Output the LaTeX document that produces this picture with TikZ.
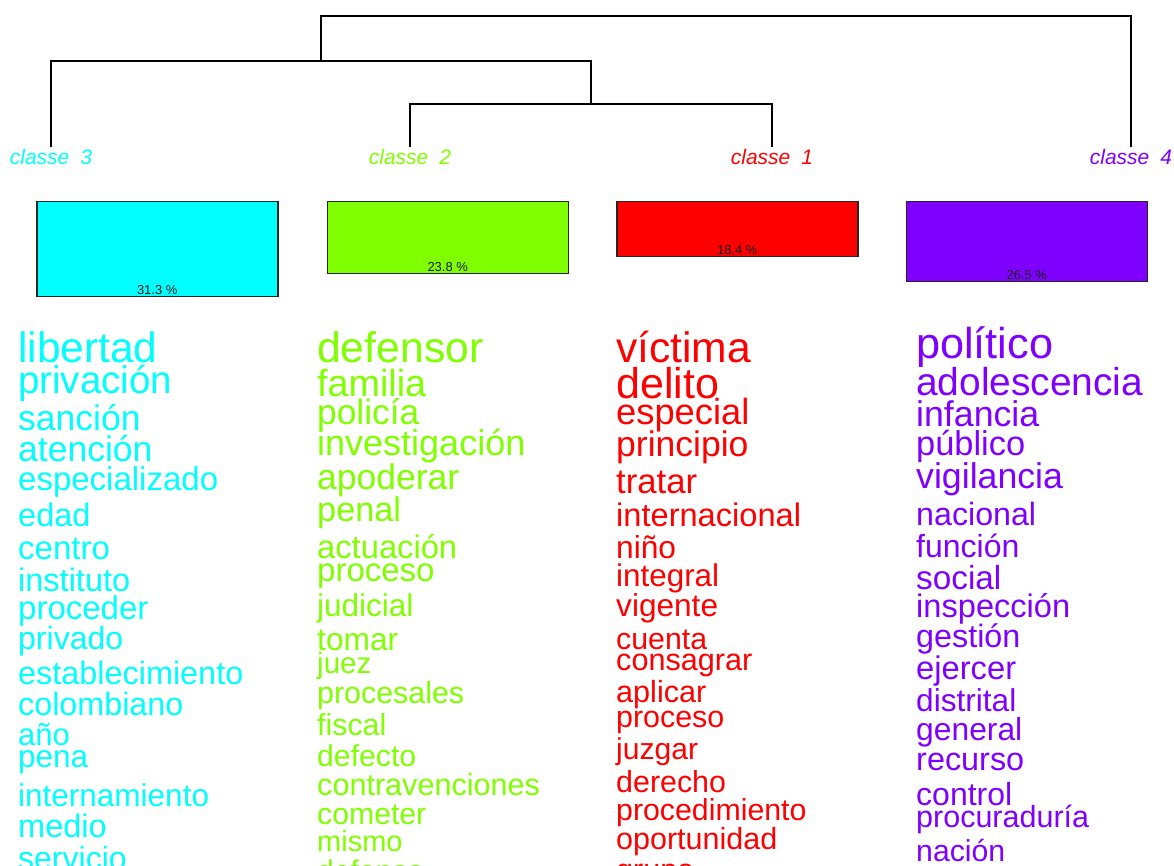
\documentclass[tikz,border=0pt]{standalone}
\usepackage{fontspec}
\setmainfont{Liberation Sans}
\usetikzlibrary{positioning, calc}
\definecolor{cls1}{RGB}{255,0,0}
\definecolor{cls2}{RGB}{128,255,0}
\definecolor{cls3}{RGB}{0,255,255}
\definecolor{cls4}{RGB}{128,0,255}
\tikzstyle{Branch} = [line width=1.5pt, black]
\tikzstyle{Leaf} = [font=\fontsize{21}{21}\selectfont\itshape, anchor=base, inner sep=0pt]
\tikzstyle{Box} = [draw=black!85, line width=1.5pt, anchor=north west,
minimum width=241pt, inner sep=0pt]
\tikzstyle{Pct} = [font=\fontsize{13}{13}\selectfont, anchor=base, inner sep=0pt, black!90]
\tikzset{Word/.style={font=\fontsize{#1}{#1}\selectfont, anchor=base west, inner sep=0pt}}

\begin{document}
\begin{tikzpicture}[x=1pt, y=-1pt]
    \useasboundingbox (0,0) rectangle (1174,866);
    \clip (0,0) rectangle (1174,866);

    % dendrogram
    \coordinate (l3) at (51,147);
    \coordinate (l2) at (410,147);
    \coordinate (l1) at (772,147);
    \coordinate (l4) at (1131,147);
    \coordinate (j21) at (591,104);
    \coordinate (j321) at (321,61);
    \coordinate (jtop) at (726,16);
    \draw[Branch] (l2) |- (j21) -| (l1);
    \draw[Branch] (l3) |- (j321) -| (j21);
    \draw[Branch] (j321) |- (jtop) -| (l4);

    \node[Leaf, cls3] (lab3) at (51,165) {classe\hspace{0.25em} 3};
    \node[Leaf, cls2] (lab2) at (410,165) {classe\hspace{0.25em} 2};
    \node[Leaf, cls1] (lab1) at (772,165) {classe\hspace{0.25em} 1};
    \node[Leaf, cls4] (lab4) at (1131,165) {classe\hspace{0.25em} 4};

    % class sizes
    \node[Box, fill=cls3, minimum height=94.7pt] (box3) at (36,201) {};
    \node[Box, fill=cls2, minimum height=71.7pt] (box2) at (326.5,201) {};
    \node[Box, fill=cls1, minimum height=54.7pt] (box1) at (616,201) {};
    \node[Box, fill=cls4, minimum height=80pt] (box4) at (905.5,201) {};
    \node[Pct] (p3) at ($(box3.south)+(0,-3)$) {31.3 \%};
    \node[Pct] (p2) at ($(box2.south)+(0,-3)$) {23.8 \%};
    \node[Pct] (p1) at ($(box1.south)+(0,-3)$) {18.4 \%};
    \node[Pct] (p4) at ($(box4.south)+(0,-3)$) {26.5 \%};

    % classe 3
    \begin{scope}[cls3]
    \node[Word=42.5] (libertad) at (18,362) {libertad};
    \node[Word=38.5] (privacion) at (18,393) {privación};
    \node[Word=35.5] (sancion) at (18,430) {sanción};
    \node[Word=35.5] (atencion) at (18,461) {atención};
    \node[Word=33] (especializado) at (18,490) {especializado};
    \node[Word=32.5] (edad) at (18,526) {edad};
    \node[Word=33] (centro) at (18,559) {centro};
    \node[Word=32.5] (instituto) at (18,591) {instituto};
    \node[Word=33] (proceder) at (18,619) {proceder};
    \node[Word=32] (privado) at (18,649) {privado};
    \node[Word=32.4] (establecimiento) at (18,684) {establecimiento};
    \node[Word=32.3] (colombiano) at (18,715) {colombiano};
    \node[Word=31] (anio) at (18,745) {año};
    \node[Word=31.5] (pena) at (18,767) {pena};
    \node[Word=31.5] (internamiento) at (18,806) {internamiento};
    \node[Word=32.5] (medio) at (18,837) {medio};
    \node[Word=32] (servicio) at (18,869) {servicio};
    \end{scope}

    % classe 2
    \begin{scope}[cls2]
    \node[Word=42.7] (defensor) at (317,362) {defensor};
    \node[Word=37.7] (familia) at (317,396) {familia};
    \node[Word=35.3] (policia) at (317,424) {policía};
    \node[Word=36] (investigacion) at (317,455) {investigación};
    \node[Word=35.5] (apoderar) at (317,489) {apoderar};
    \node[Word=34.3] (penal) at (317,521) {penal};
    \node[Word=32.7] (actuacion) at (317,558) {actuación};
    \node[Word=33] (proceso2) at (317,581) {proceso};
    \node[Word=31.5] (judicial) at (317,616) {judicial};
    \node[Word=31.7] (tomar) at (317,650) {tomar};
    \node[Word=29.5] (juez) at (317,673) {juez};
    \node[Word=30.4] (procesales) at (317,703) {procesales};
    \node[Word=30.3] (fiscal) at (317,735) {fiscal};
    \node[Word=30.2] (defecto) at (317,766) {defecto};
    \node[Word=30.6] (contravenciones) at (317,795) {contravenciones};
    \node[Word=30.2] (cometer) at (317,824) {cometer};
    \node[Word=29] (mismo) at (317,851) {mismo};
    \node[Word=30] (defensa) at (317,881) {defensa};
    \end{scope}

    % classe 1
    \begin{scope}[cls1]
    \node[Word=42.6] (victima) at (616,362) {víctima};
    \node[Word=43] (delito) at (616,398) {delito};
    \node[Word=36.3] (especial) at (616,424) {especial};
    \node[Word=35.5] (principio) at (616,456) {principio};
    \node[Word=34.7] (tratar) at (616,493) {tratar};
    \node[Word=32.6] (internacional) at (616,526) {internacional};
    \node[Word=31.7] (nino) at (616,558) {niño};
    \node[Word=31.4] (integral) at (616,586) {integral};
    \node[Word=31.6] (vigente) at (616,616) {vigente};
    \node[Word=30.3] (cuenta) at (616,649) {cuenta};
    \node[Word=30.6] (consagrar) at (616,670) {consagrar};
    \node[Word=30.6] (aplicar) at (616,702) {aplicar};
    \node[Word=30.4] (proceso1) at (616,727) {proceso};
    \node[Word=30.1] (juzgar) at (616,759) {juzgar};
    \node[Word=30.4] (derecho) at (616,792) {derecho};
    \node[Word=30.3] (procedimiento) at (616,820) {procedimiento};
    \node[Word=30.5] (oportunidad) at (616,849) {oportunidad};
    \node[Word=30.5] (grupo) at (616,880) {grupo};
    \end{scope}

    % classe 4
    \begin{scope}[cls4]
    \node[Word=43.2] (politico) at (916,358) {político};
    \node[Word=38.9] (adolescencia) at (916,395) {adolescencia};
    \node[Word=35.7] (infancia) at (916,426) {infancia};
    \node[Word=34.4] (publico) at (916,455) {público};
    \node[Word=35.7] (vigilancia) at (916,488) {vigilancia};
    \node[Word=32.2] (nacional) at (916,525) {nacional};
    \node[Word=32] (funcion) at (916,557) {función};
    \node[Word=33.3] (social) at (916,589) {social};
    \node[Word=32.6] (inspeccion) at (916,617) {inspección};
    \node[Word=32.3] (gestion) at (916,647) {gestión};
    \node[Word=32.7] (ejercer) at (916,679) {ejercer};
    \node[Word=31.6] (distrital) at (916,711) {distrital};
    \node[Word=31.8] (general) at (916,740) {general};
    \node[Word=32.4] (recurso) at (916,770) {recurso};
    \node[Word=32] (control) at (916,805) {control};
    \node[Word=30.5] (procuraduria) at (916,827) {procuraduría};
    \node[Word=30.2] (nacion) at (916,861) {nación};
    \end{scope}
\end{tikzpicture}
\end{document}
